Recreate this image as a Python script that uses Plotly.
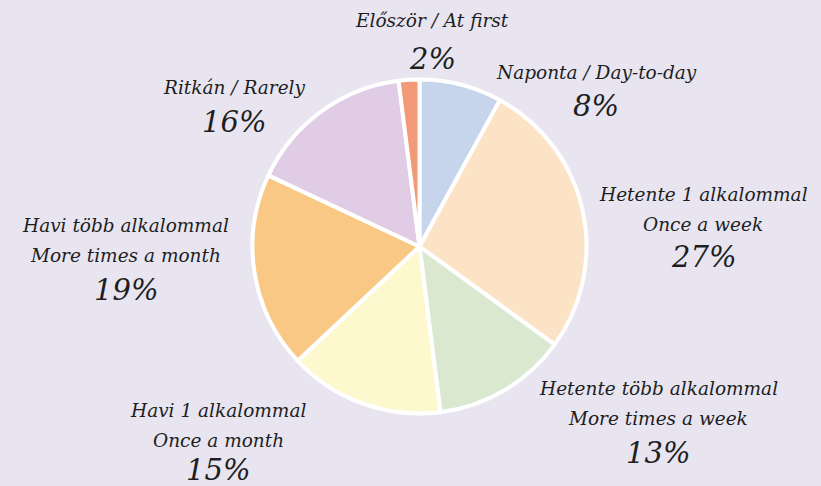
import plotly.graph_objects as go

W, H = 821, 486

categories = ["Naponta / Day-to-day",
              "Hetente 1 alkalommal<br>Once a week",
              "Hetente több alkalommal<br>More times a week",
              "Havi 1 alkalommal<br>Once a month",
              "Havi több alkalommal<br>More times a month",
              "Ritkán / Rarely",
              "Először / At first"]
values = [8, 27, 13, 15, 19, 16, 2]
colors = ["#c6d5ec", "#fce3c6", "#d9e8cf", "#fef8cf", "#f8c884", "#e0cde5", "#f29a78"]

# label layout (pixel centres): block centre x, first-line y, percent y
label_pos = [(596, 72, 106), (703, 194, 257), (658, 388, 453),
             (218, 410, 470), (126, 225, 290), (234, 87, 122), (432, 20, 59)]

cx, cy, r = 419.5, 246.5, 167
fig = go.Figure(go.Pie(
    labels=[c.replace("<br>", " ") for c in categories], values=values, sort=False,
    direction="clockwise", rotation=0,
    marker=dict(colors=colors, line=dict(color="white", width=4)),
    textinfo="none", hoverinfo="label+percent", showlegend=False,
    domain=dict(x=[(cx - r) / W, (cx + r) / W], y=[1 - (cy + r) / H, 1 - (cy - r) / H]),
))

font_family = "DejaVu Serif, Liberation Serif, serif"
anns = []
for cat, v, (x, y1, yp) in zip(categories, values, label_pos):
    lines = cat.split("<br>")
    for i, ln in enumerate(lines):
        anns.append(dict(x=x / W, y=1 - (y1 + i * 30) / H, xref="paper", yref="paper",
                         text=f"<i>{ln}</i>", showarrow=False, xanchor="center", yanchor="middle",
                         font=dict(family=font_family, size=18.5, color="#1e1e1e")))
    anns.append(dict(x=x / W, y=1 - yp / H, xref="paper", yref="paper",
                     text=f"<i>{v}%</i>", showarrow=False, xanchor="center", yanchor="middle",
                     font=dict(family=font_family, size=29, color="#1e1e1e")))

fig.update_layout(
    width=W, height=H, margin=dict(l=0, r=0, t=0, b=0),
    paper_bgcolor="#e8e5f1", plot_bgcolor="#e8e5f1",
    annotations=anns,
)
fig.write_html("out.html", config={"displayModeBar": False},
               post_script="document.body.style.margin='0';document.body.style.background='#e8e5f1';")
